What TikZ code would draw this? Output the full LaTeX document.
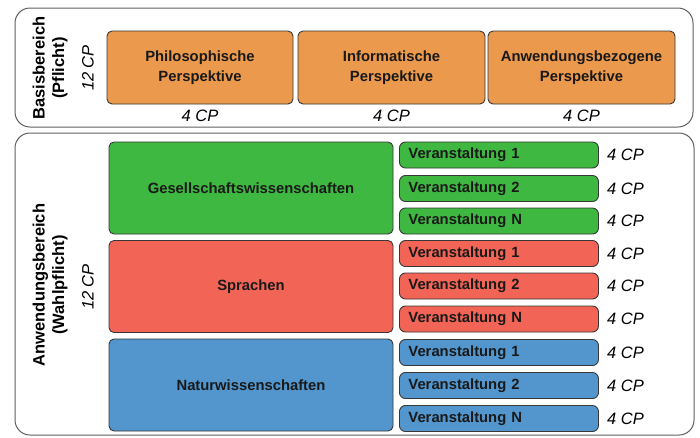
\documentclass[tikz,border=0pt]{standalone}
\usepackage{fontspec}
\setmainfont{Liberation Sans}
\definecolor{orangebox}{RGB}{235,153,76}
\definecolor{greenbox}{RGB}{62,184,64}
\definecolor{redbox}{RGB}{242,100,86}
\definecolor{bluebox}{RGB}{82,150,205}
\definecolor{edgegray}{RGB}{55,55,55}
\begin{document}
\begin{tikzpicture}[x=1pt, y=-1pt,
    area/.style={draw=edgegray!80, rounded corners=15pt, line width=1pt},
    box/.style={draw=edgegray, rounded corners=5pt, line width=0.9pt, text=black!90,
      align=center, font=\bfseries\fontsize{14.8}{20}\selectfont},
    course/.style={box, rounded corners=6pt, anchor=west, inner xsep=9pt, text width=181pt,
      align=left, minimum height=26pt, label={[cp, label distance=6pt]right:4 CP}},
    cp/.style={inner sep=2pt, font=\itshape\fontsize{16.5}{19}\selectfont},
    side/.style={rotate=90, align=center, font=\bfseries\fontsize{16.5}{19.5}\selectfont}]
      \useasboundingbox (0,0) rectangle (700,437);

      % Basisbereich
      \node[area, minimum width=678pt, minimum height=119pt] (basis) at (354,67.5) {};
      \node[side] (basislabel) at (50,68) {Basisbereich\\(Pflicht)};
      \node[cp, rotate=90] (basiscp) at (88,68) {12 CP};

      \node[box, fill=orangebox, minimum width=186pt, minimum height=73pt, label={[cp, label distance=3pt]below:4 CP}] (philo) at (200,67.5) {Philosophische\\Perspektive};
      \node[box, fill=orangebox, minimum width=187pt, minimum height=73pt, label={[cp, label distance=3pt]below:4 CP}] (info) at (391.5,67.5) {Informatische\\Perspektive};
      \node[box, fill=orangebox, minimum width=187pt, minimum height=73pt, label={[cp, label distance=3pt]below:4 CP}] (anwbez) at (581.5,67.5) {Anwendungsbezogene\\Perspektive};

      % Anwendungsbereich
      \node[area, minimum width=679pt, minimum height=302pt] (anwendung) at (354.5,284) {};
      \node[side] (anwlabel) at (50,285) {Anwendungsbereich\\(Wahlpflicht)};
      \node[cp, rotate=90] (anwcp) at (88,287) {12 CP};

      \node[box, fill=greenbox, minimum width=284pt, minimum height=92pt] (gesell) at (251,188) {Gesellschaftswissenschaften};
      \node[box, fill=redbox, minimum width=284pt, minimum height=92pt] (sprachen) at (251,286.5) {Sprachen};
      \node[box, fill=bluebox, minimum width=284pt, minimum height=92pt] (natur) at (251,385) {Naturwissenschaften};

      \node[course, fill=greenbox] (g1) at (399,155) {Veranstaltung 1};
      \node[course, fill=greenbox] (g2) at (399,188.5) {Veranstaltung 2};
      \node[course, fill=greenbox] (gn) at (399,221) {Veranstaltung N};
      \node[course, fill=redbox] (s1) at (399,253.5) {Veranstaltung 1};
      \node[course, fill=redbox] (s2) at (399,286) {Veranstaltung 2};
      \node[course, fill=redbox] (sn) at (399,319) {Veranstaltung N};
      \node[course, fill=bluebox] (n1) at (399,352.5) {Veranstaltung 1};
      \node[course, fill=bluebox] (n2) at (399,385.5) {Veranstaltung 2};
      \node[course, fill=bluebox] (nn) at (399,418.5) {Veranstaltung N};
    \end{tikzpicture}
\end{document}
